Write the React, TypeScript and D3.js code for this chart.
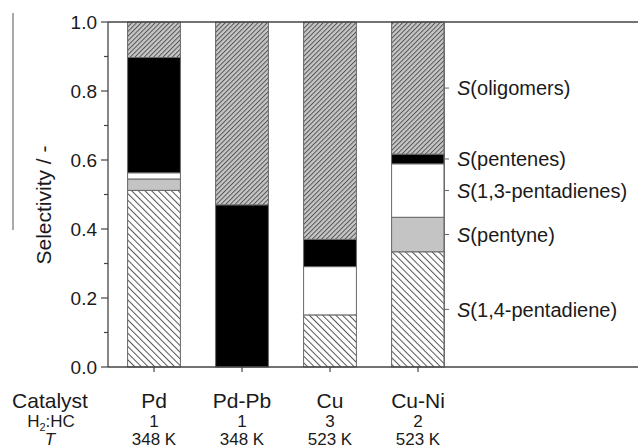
import React from 'react';
import * as d3 from 'd3';

const catalysts = ['Pd', 'Pd-Pb', 'Cu', 'Cu-Ni'];
const h2hcRatios = ['1', '1', '3', '2'];
const temperatures = ['348 K', '348 K', '523 K', '523 K'];

// selectivity per product, one value per catalyst
const s14Pentadiene = [0.512, 0, 0.151, 0.334];
const sPentyne = [0.033, 0, 0, 0.1];
const s13Pentadienes = [0.018, 0, 0.14, 0.155];
const sPentenes = [0.334, 0.47, 0.079, 0.028];
const sOligomers = [0.103, 0.53, 0.63, 0.383];

const productKeys = ['p14', 'pyne', 'p13', 'pene', 'olig'];
const productNames = ['1,4-pentadiene', 'pentyne', '1,3-pentadienes', 'pentenes', 'oligomers'];
const yTicks = [0, 0.1, 0.2, 0.3, 0.4, 0.5, 0.6, 0.7, 0.8, 0.9, 1.0];

const W = 638;
const H = 448;
const left = 108;
const top = 22;
const bottom = 367;
const rightAxis = 444;

const fills: { [k: string]: string } = {
  p14: 'url(#hatchBack)',
  pyne: '#c4c4c4',
  p13: '#ffffff',
  pene: '#000000',
  olig: 'url(#hatchFwd)',
};

const font = '"Liberation Sans", Arial, sans-serif';

export default function App() {
  const table = catalysts.map((c, i) => ({
    catalyst: c,
    p14: s14Pentadiene[i],
    pyne: sPentyne[i],
    p13: s13Pentadienes[i],
    pene: sPentenes[i],
    olig: sOligomers[i],
  }));

  const series = d3.stack<any>().keys(productKeys)(table);

  const x = d3.scaleBand()
    .domain(catalysts)
    .range([110, 462])
    .paddingInner(0.4)
    .paddingOuter(0.2);

  const y = d3.scaleLinear().domain([0, 1]).range([bottom, top]);

  const last = catalysts.length - 1;

  return (
    <svg width={W} height={H} style={{ position: 'absolute', left: 0, top: 0, background: '#fff' }}
      fontFamily={font}>
      <defs>
        <pattern id="hatchFwd" patternUnits="userSpaceOnUse" width="3.3" height="3.3"
          patternTransform="rotate(45)">
          <rect width="3.3" height="3.3" fill="#c6c6c6" />
          <line x1="0.5" y1="0" x2="0.5" y2="3.3" stroke="#4a4a4a" strokeWidth="0.9" />
        </pattern>
        <pattern id="hatchBack" patternUnits="userSpaceOnUse" width="4.7" height="4.7"
          patternTransform="rotate(-45)">
          <rect width="4.7" height="4.7" fill="#ffffff" />
          <line x1="0.5" y1="0" x2="0.5" y2="4.7" stroke="#555" strokeWidth="1" />
        </pattern>
      </defs>

      {/* stray rule on the left of the scan */}
      <line x1={13} y1={13} x2={13} y2={230} stroke="#555" strokeWidth={1} />

      {/* bars */}
      {series.map((s) => (
        <g key={s.key}>
          {s.map((d, i) => (d[1] - d[0] > 0 ? (
            <rect key={i}
              x={x(catalysts[i])}
              y={y(d[1])}
              width={x.bandwidth()}
              height={y(d[0]) - y(d[1])}
              fill={fills[s.key]}
              stroke="#666"
              strokeWidth={1} />
          ) : null))}
        </g>
      ))}

      {/* frame */}
      <line x1={left} y1={top} x2={W} y2={top} stroke="#444" strokeWidth={1.3} />
      <line x1={left} y1={bottom} x2={W} y2={bottom} stroke="#444" strokeWidth={1.3} />
      <line x1={left} y1={top} x2={left} y2={bottom} stroke="#444" strokeWidth={1.3} />
      <line x1={rightAxis} y1={top} x2={rightAxis} y2={bottom} stroke="#666" strokeWidth={1} />

      {/* y axis */}
      {yTicks.map((t, i) => (
        <g key={t} transform={`translate(0,${y(t)})`}>
          <line x1={left - (i % 2 === 0 ? 7 : 4)} x2={left} stroke="#444" strokeWidth={1.2} />
          {i % 2 === 0 ? (
            <text x={97} dy="0.36em" textAnchor="end" fontSize={19} fill="#1a1a1a">
              {d3.format('.1f')(t)}
            </text>
          ) : null}
        </g>
      ))}
      <text transform={`translate(51,205) rotate(-90)`} textAnchor="middle" fontSize={21} fill="#1a1a1a">
        Selectivity / -
      </text>

      {/* x axis ticks and rows */}
      {catalysts.map((c, i) => {
        const cx = (x(c) as number) + x.bandwidth() / 2;
        return (
          <g key={c}>
            <line x1={cx} x2={cx} y1={bottom} y2={bottom + 5} stroke="#444" strokeWidth={1.2} />
            <text x={cx} y={408} textAnchor="middle" fontSize={21} fill="#1a1a1a">{c}</text>
            <text x={cx} y={427} textAnchor="middle" fontSize={17} fill="#1a1a1a">{h2hcRatios[i]}</text>
            <text x={cx} y={445} textAnchor="middle" fontSize={17} fill="#1a1a1a">{temperatures[i]}</text>
          </g>
        );
      })}
      <text x={50} y={408} textAnchor="middle" fontSize={21} fill="#1a1a1a">Catalyst</text>
      <text x={51} y={427} textAnchor="middle" fontSize={17} fill="#1a1a1a">
        H<tspan fontSize={11} dy={4}>2</tspan><tspan dy={-4}>:HC</tspan>
      </text>
      <text x={50} y={445} textAnchor="middle" fontSize={17} fontStyle="italic" fill="#1a1a1a">T</text>

      {/* product labels at the Cu-Ni segments */}
      {series.map((s, k) => {
        const d = s[last];
        const my = y((d[0] + d[1]) / 2);
        return (
          <g key={s.key} transform={`translate(${rightAxis},${my})`}>
            <line x1={0} x2={5} stroke="#666" strokeWidth={1} />
            <text x={13} dy="0.36em" fontSize={20} fill="#1a1a1a">
              <tspan fontStyle="italic">S</tspan>({productNames[k]})
            </text>
          </g>
        );
      })}
    </svg>
  );
}
